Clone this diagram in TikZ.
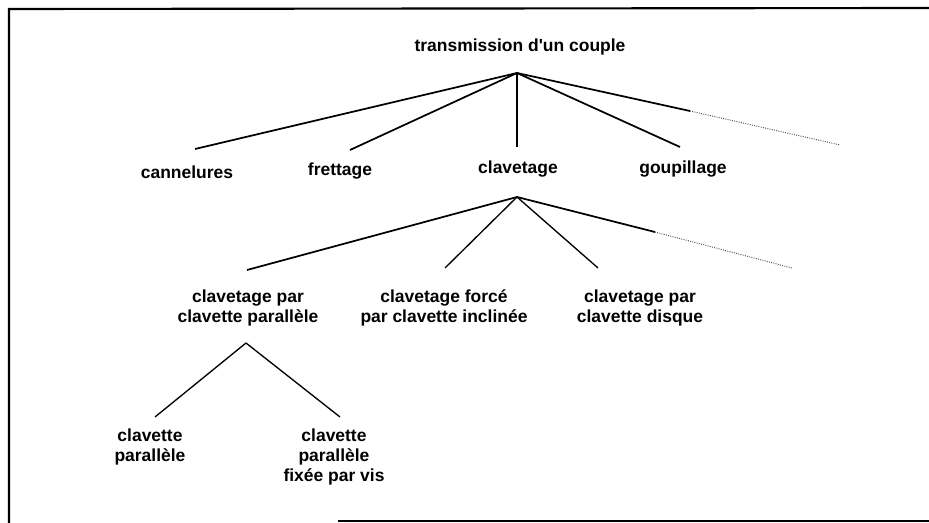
\documentclass[tikz,border=0pt]{standalone}
\usepackage{fontspec}
\setmainfont{Liberation Sans}
\begin{document}
\begin{tikzpicture}[x=0.75pt,y=-0.75pt,
  lbl/.style={font=\fontsize{13.1}{15}\selectfont\bfseries, align=center, inner sep=0pt},
  edge/.style={line width=1.3pt},
  thin edge/.style={line width=1pt},
  more/.style={line width=0.7pt, densely dotted, black!70},
  frame/.style={line width=1.6pt}]
\useasboundingbox (0,0) rectangle (929,523);
% frame (partial, as scanned)
\coordinate (fa) at (9,523);
\coordinate (fb) at (9,9);
\coordinate (fc) at (929,8);
\coordinate (fd) at (338,521);
\coordinate (fe) at (929,521);
\draw[frame] (fa) -- (fb) -- (fc);
\draw[frame] (fd) -- (fe);
% labels
\node[lbl] (root) at (520,47) {transmission d\textquotesingle un couple};
\node[lbl] (can) at (187,172) {cannelures};
\node[lbl] (fre) at (340,171) {frettage};
\node[lbl] (cla) at (518,169) {clavetage};
\node[lbl] (gou) at (683,169) {goupillage};
\node[lbl] (cpp) at (248,308) {clavetage par\\clavette parallèle};
\node[lbl] (cfi) at (444,308) {clavetage forcé\\par clavette inclinée};
\node[lbl] (cdi) at (640,308) {clavetage par\\clavette disque};
\node[lbl] (cvp) at (150,447) {clavette\\parallèle};
\node[lbl] (cvf) at (334,457) {clavette\\parallèle\\fixée par vis};
% branch points
\coordinate (r0) at (517,73);
\coordinate (r1) at (195,149);
\coordinate (r2) at (350,150);
\coordinate (r3) at (517,147);
\coordinate (r4) at (680,147);
\coordinate (r5) at (690,111);
\coordinate (r6) at (840,145);
\coordinate (c0) at (517,197);
\coordinate (c1) at (247,270);
\coordinate (c2) at (445,268);
\coordinate (c3) at (598,268);
\coordinate (c4) at (655,232);
\coordinate (c5) at (792,268);
\coordinate (p0) at (246,343);
\coordinate (p1) at (155,417);
\coordinate (p2) at (340,417);
% connectors
\draw[edge] (r0) -- (r1);
\draw[edge] (r0) -- (r2);
\draw[edge] (r0) -- (r3);
\draw[edge] (r0) -- (r4);
\draw[edge] (r0) -- (r5);
\draw[more] (r5) -- (r6);
\draw[edge] (c0) -- (c1);
\draw[thin edge] (c0) -- (c2);
\draw[thin edge] (c0) -- (c3);
\draw[edge] (c0) -- (c4);
\draw[more] (c4) -- (c5);
\draw[thin edge] (p0) -- (p1);
\draw[thin edge] (p0) -- (p2);
\end{tikzpicture}
\end{document}
